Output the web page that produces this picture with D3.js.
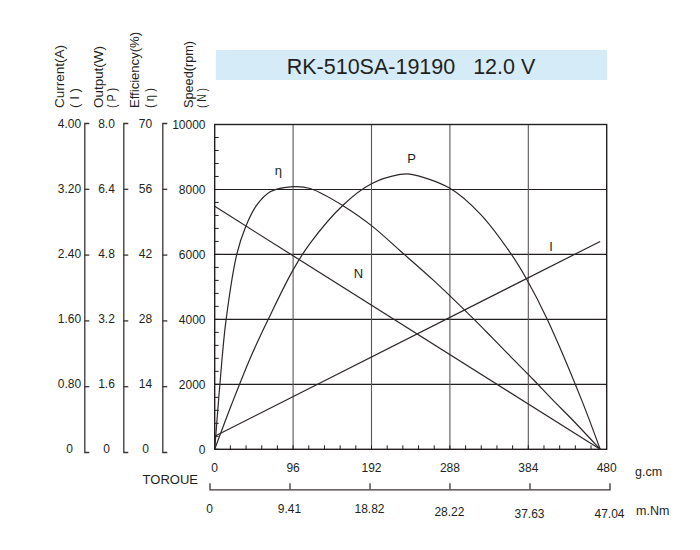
<!DOCTYPE html>
<html>
<head>
<meta charset="utf-8">
<script src="https://cdn.jsdelivr.net/npm/d3@7"></script>
<style>
  body { margin: 0; background: #fff; }
  text { font-family: "Liberation Sans", Arial, sans-serif; fill: #231f20; }
</style>
</head>
<body>
<svg id="chart" width="700" height="550"></svg>
<script>

/*** DATA ***/
const torqueTicks = [0, 96, 192, 288, 384, 480];
const mNmTicks = [0, 9.41, 18.82, 28.22, 37.63, 47.04];
const mNmLabels = ["0", "9.41", "18.82", "28.22", "37.63", "47.04"];
const speedTicks = [0, 2000, 4000, 6000, 8000, 10000];
const currentLabels = ["0", "0.80", "1.60", "2.40", "3.20", "4.00"];
const outputLabels = ["0", "1.6", "3.2", "4.8", "6.4", "8.0"];
const effLabels = ["0", "14", "28", "42", "56", "70"];

// speed N (rpm) vs torque (g.cm)
const speedTorque = [0, 472];
const speedRpm = [7480, 0];
// current I (A)
const currentTorque = [0, 472];
const currentAmp = [0.16, 2.56];
// output P (W)
const outputTorque = [0, 21, 43, 66, 96, 117, 158, 192, 227, 239, 288, 325, 362, 382, 407, 449, 472];
const outputWatt = [0, 1.12, 2.22, 3.22, 4.42, 5.08, 6.03, 6.54, 6.77, 6.78, 6.43, 5.8, 4.84, 4.19, 3.21, 1.23, 0];
// efficiency (%)
const effTorque = [0, 9, 14, 27, 38, 51, 68, 96, 117, 158, 192, 227, 268, 317, 340, 365, 390, 413, 440, 472];
const effPct = [0, 19.5, 28, 42, 48, 52.5, 55.5, 56.6, 56.2, 52.4, 48.2, 42.8, 36.4, 28.1, 24.0, 19.5, 15.05, 10.8, 6.0, 0];

/*** SCALES ***/
const svg = d3.select("#chart");
const x = d3.scaleLinear().domain([0, 480]).range([214.7, 606.7]);
const y = d3.scaleLinear().domain([0, 10000]).range([449.3, 124.5]);
const yI = d3.scaleLinear().domain([0, 4]).range([449.3, 124.5]);
const yP = d3.scaleLinear().domain([0, 8]).range([449.3, 124.5]);
const yE = d3.scaleLinear().domain([0, 70]).range([449.3, 124.5]);
const ySide = d3.scaleLinear().domain([0, 5]).range([452, 123]);
const xNm = d3.scaleLinear().domain([0, 47.04]).range([209.5, 609.5]);

/*** TITLE ***/
svg.append("rect")
    .attr("x", 216).attr("y", 50).attr("width", 391).attr("height", 30)
    .attr("fill", "#d6ebf8");
svg.append("text")
    .attr("x", 411).attr("y", 73.5)
    .attr("text-anchor", "middle")
    .attr("font-size", 21.5)
    .style("white-space", "pre")
    .text("RK-510SA-19190   12.0 V");

/*** HEADERS ***/
// [text, column centre, length]
const headers = [
    ["Current(A)", 59.5, 63], ["( I )", 74.5, 20],
    ["Output(W)", 98, 62], ["( P )", 111, 20],
    ["Efficiency(%)", 134.5, 76], ["( η )", 149, 20],
    ["Speed(rpm)", 188, 67], ["( N )", 201, 20]
];
headers.forEach(function (h) {
    svg.append("text")
        .attr("transform", "translate(" + h[1] + ",108) rotate(-90)")
        .attr("dy", "0.36em")
        .attr("font-size", 12.5)
        .attr("textLength", h[2])
        .attr("lengthAdjust", "spacingAndGlyphs")
        .style("white-space", "pre")
        .text(h[0]);
});

/*** GRID ***/
const grid = svg.append("g");
grid.selectAll(".hgrid")
    .data(speedTicks.slice(1, 5))
    .enter().append("line")
    .attr("x1", x(0)).attr("x2", x(480))
    .attr("y1", d => y(d)).attr("y2", d => y(d))
    .attr("stroke", "#231f20").attr("stroke-width", 1.1);
grid.selectAll(".vgrid")
    .data(torqueTicks.slice(1, 5))
    .enter().append("line")
    .attr("x1", d => x(d)).attr("x2", d => x(d))
    .attr("y1", y(0)).attr("y2", y(10000))
    .attr("stroke", "#5a5656").attr("stroke-width", 1.1);

// minor ticks
grid.selectAll(".xminor")
    .data(d3.range(0, 480, 19.2))
    .enter().append("line")
    .attr("x1", d => x(d)).attr("x2", d => x(d))
    .attr("y1", y(0)).attr("y2", y(0) - 4)
    .attr("stroke", "#231f20").attr("stroke-width", 1);
grid.selectAll(".yminor")
    .data(d3.range(0, 10000, 400))
    .enter().append("line")
    .attr("x1", x(0)).attr("x2", x(0) + 4)
    .attr("y1", d => y(d)).attr("y2", d => y(d))
    .attr("stroke", "#231f20").attr("stroke-width", 1);

// frame
svg.append("rect")
    .attr("x", x(0)).attr("y", y(10000))
    .attr("width", x(480) - x(0)).attr("height", y(0) - y(10000))
    .attr("fill", "none").attr("stroke", "#231f20").attr("stroke-width", 1.4);

/*** CURVES ***/
const curves = svg.append("g")
    .attr("fill", "none").attr("stroke", "#2d2626").attr("stroke-width", 1.2);

curves.append("path")
    .attr("d", d3.line().x(d => x(d[0])).y(d => y(d[1]))(d3.zip(speedTorque, speedRpm)));
curves.append("path")
    .attr("d", d3.line().x(d => x(d[0])).y(d => yI(d[1]))(d3.zip(currentTorque, currentAmp)));
curves.append("path")
    .attr("d", d3.line().curve(d3.curveCatmullRom.alpha(0.5)).x(d => x(d[0])).y(d => yP(d[1]))(d3.zip(outputTorque, outputWatt)));
curves.append("path")
    .attr("d", d3.line().curve(d3.curveCatmullRom.alpha(0.5)).x(d => x(d[0])).y(d => yE(d[1]))(d3.zip(effTorque, effPct)));

// curve names
const curveNames = [["η", 78, 8600], ["P", 241, 8960], ["N", 176, 5400], ["I", 412, 6240]];
svg.selectAll(".cname")
    .data(curveNames)
    .enter().append("text")
    .attr("x", d => x(d[1])).attr("y", d => y(d[2]))
    .attr("dy", "0.35em")
    .attr("text-anchor", "middle")
    .attr("font-size", 13)
    .text(d => d[0]);

/*** LEFT AXES ***/
const sideAxes = [
    {lx: 84.3, labels: currentLabels, tx: 69.5},
    {lx: 123.3, labels: outputLabels, tx: 106.5},
    {lx: 162.3, labels: effLabels, tx: 145.5}
];
sideAxes.forEach(function (a) {
    const g = svg.append("g")
        .attr("transform", "translate(" + a.lx + ",0)")
        .call(d3.axisRight(ySide).tickValues([1, 2, 3, 4]).tickSizeInner(5).tickSizeOuter(5).tickFormat(""));
    g.selectAll("path, line").attr("stroke", "#3a3434").attr("stroke-width", 1.3);
    svg.selectAll(null)
        .data(a.labels)
        .enter().append("text")
        .attr("x", a.tx)
        .attr("y", (d, i) => y(speedTicks[i]) - 1)
        .attr("dy", "0.35em")
        .attr("text-anchor", "middle")
        .attr("font-size", 12)
        .text(d => d);
});

svg.selectAll(".speedlab")
    .data(speedTicks)
    .enter().append("text")
    .attr("x", 205.5)
    .attr("y", d => y(d))
    .attr("dy", "0.35em")
    .attr("text-anchor", "end")
    .attr("font-size", 12)
    .text(d => d);

/*** BOTTOM AXES ***/
svg.selectAll(".gcm")
    .data(torqueTicks)
    .enter().append("text")
    .attr("x", d => x(d))
    .attr("y", 468)
    .attr("dy", "0.35em")
    .attr("text-anchor", "middle")
    .attr("font-size", 12)
    .text(d => d);
svg.append("text").attr("x", 635).attr("y", 471.5).attr("dy", "0.35em")
    .attr("font-size", 12.5).text("g.cm");
svg.append("text").attr("x", 198).attr("y", 479).attr("dy", "0.35em")
    .attr("text-anchor", "end").attr("font-size", 13).text("TOROUE");

const nm = svg.append("g")
    .attr("transform", "translate(0,489.3)")
    .call(d3.axisTop(xNm).tickValues(mNmTicks.slice(1, 5)).tickSizeInner(6).tickSizeOuter(6).tickFormat(""));
nm.selectAll("path, line").attr("stroke", "#3a3434").attr("stroke-width", 1.3);

svg.selectAll(".nmlab")
    .data(mNmTicks)
    .enter().append("text")
    .attr("x", d => xNm(d))
    .attr("y", (d, i) => i < 3 ? 509 : (i === 3 ? 511.5 : 514))
    .attr("dy", "0.35em")
    .attr("text-anchor", "middle")
    .attr("font-size", 12)
    .text((d, i) => mNmLabels[i]);
svg.append("text").attr("x", 636).attr("y", 510.5).attr("dy", "0.35em")
    .attr("font-size", 12.5).text("m.Nm");

</script>
</body>
</html>
